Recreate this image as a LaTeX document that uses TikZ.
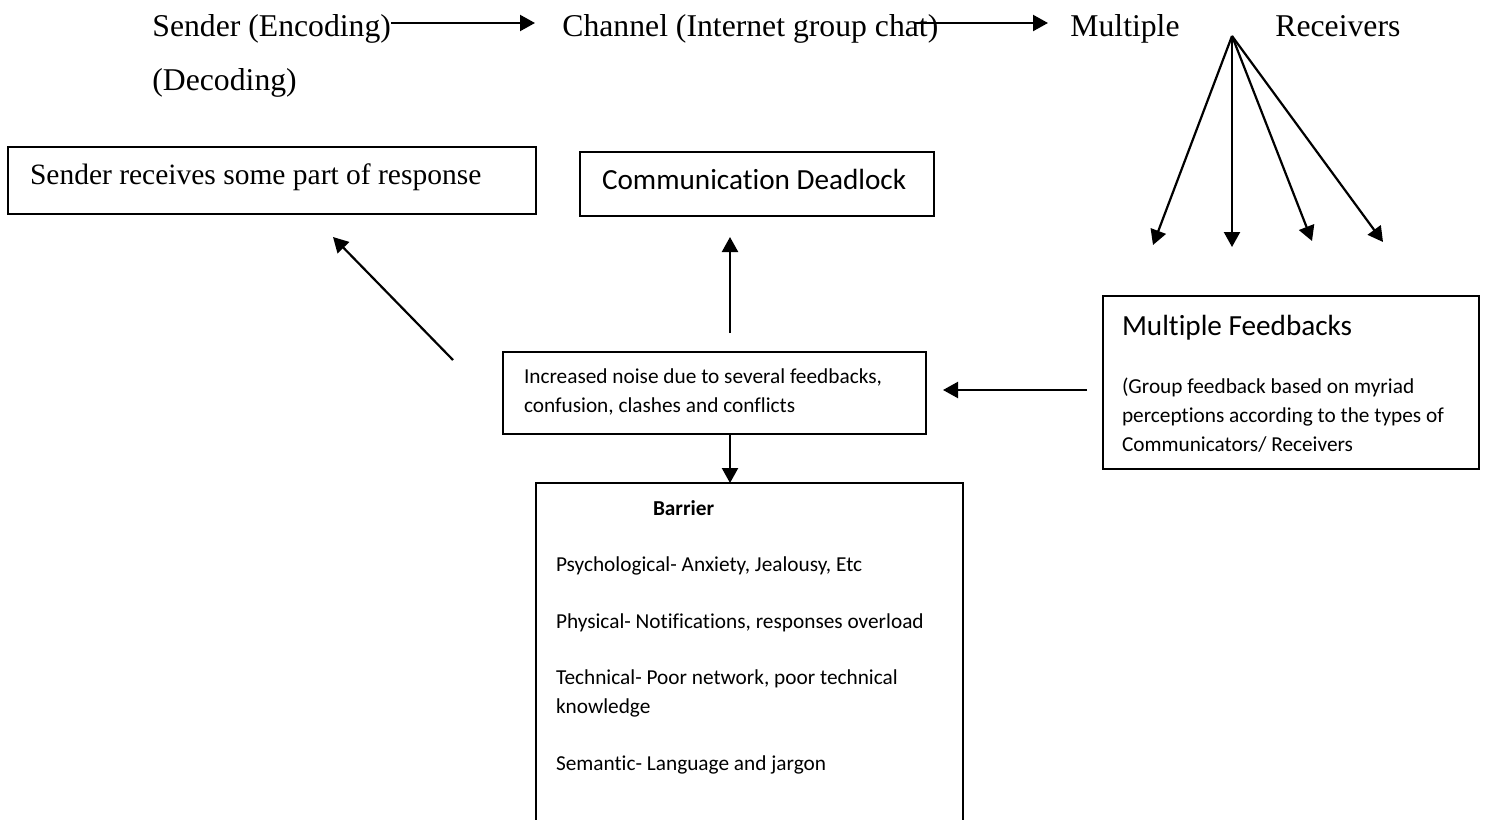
\documentclass[tikz,border=0pt]{standalone}
\usepackage{fontspec}
\setmainfont{Liberation Serif}
\newfontfamily\calibri[Ligatures=NoCommon]{Carlito}
\usetikzlibrary{arrows.meta,calc}
\newcommand\tmbig{\fontsize{15.85}{19}\selectfont}
\newcommand\tmbox{\fontsize{14.75}{18}\selectfont}
\newcommand\calbig{\calibri\fontsize{14.6}{17.5}\selectfont}
\newcommand\calsmall{\calibri\fontsize{10.65}{14.5}\selectfont}
\begin{document}
\begin{tikzpicture}[x=0.5pt, y=-0.5pt, >={Triangle[length=7.5pt,width=8pt]},
  txt/.style={inner sep=0pt, anchor=base west, text height=11pt, text depth=3.5pt, font=\tmbig},
  box/.style={draw, line width=1pt, outer sep=0pt, anchor=north west, align=flush left, inner ysep=0pt},
  arr/.style={->, line width=1.1pt}]
\useasboundingbox (0,0) rectangle (1488,819);
\fill[white] (0,0) rectangle (1488,819);

\node[txt] (sender) at (152,36) {Sender (Encoding)};
\node[txt] (decoding) at (152,90) {(Decoding)};
\node[txt] (channel) at (562,36) {Channel (Internet group chat)};
\node[txt] (multiple) at (1070,36) {Multiple};
\node[txt] (receivers) at (1275,36) {Receivers};
\draw[arr] ([yshift=2.75pt]sender.east) -- ([xshift=-13.5pt,yshift=2.75pt]channel.west);
\draw[arr] ([xshift=-12.5pt,yshift=2.75pt]channel.east) -- ([xshift=-11pt,yshift=2.75pt]multiple.west);

\coordinate (fan) at (1232,36);
\foreach \tx/\ty [count=\i] in {1153/245,1232/247,1312/241,1383/242}{
  \coordinate (rcv\i) at (\tx,\ty);
  \draw[arr] (fan) -- (rcv\i);
}

\node[box, inner xsep=11pt, text width=242pt, text height=18.5pt, text depth=15pt, font=\tmbox] (resp) at (8,147) {Sender receives some part of response};
\node[box, inner xsep=11pt, text width=155pt, text height=18.5pt, text depth=13.5pt, font=\calbig] (deadlock) at (580,152) {Communication Deadlock};
\node[box, inner xsep=10.5pt, text width=190.5pt, text height=15.5pt, text depth=25.5pt, font=\calsmall] (noise) at (503,352) {Increased noise due to several feedbacks,\\ confusion, clashes and conflicts};
\node[box, inner xsep=9.5pt, text width=169pt, text height=19.5pt, text depth=67pt, font=\calsmall] (feedback) at (1103,296) {{\calbig Multiple Feedbacks}\\[14.5pt] (Group feedback based on myriad\\ perceptions according to the types of\\ Communicators/ Receivers};
\node[box, inner xsep=10pt, text width=193.5pt, text height=16pt, text depth=160pt, font=\calsmall] (barrier) at (536,483) {\hspace*{48.5pt}\textbf{Barrier}\\[13.8pt] Psychological- Anxiety, Jealousy, Etc\\[13.8pt] Physical- Notifications, responses overload\\[13.8pt] Technical- Poor network, poor technical\\ knowledge\\[13.8pt] Semantic- Language and jargon};

\draw[arr] ($(noise.north west)+(-50,8)$) -- ($(resp.south east)+(-203,23)$);
\draw[arr] ($(noise.north)+(15.5,-19)$) -- ($(deadlock.south)+(-27,21)$);
\draw[arr] ($(noise.south)+(15.5,0)$) -- ($(barrier.north)+(-19.5,0)$);
\draw[arr] ($(feedback.west)+(-16,7.5)$) -- ($(noise.east)+(17,-3)$);
\end{tikzpicture}
\end{document}
